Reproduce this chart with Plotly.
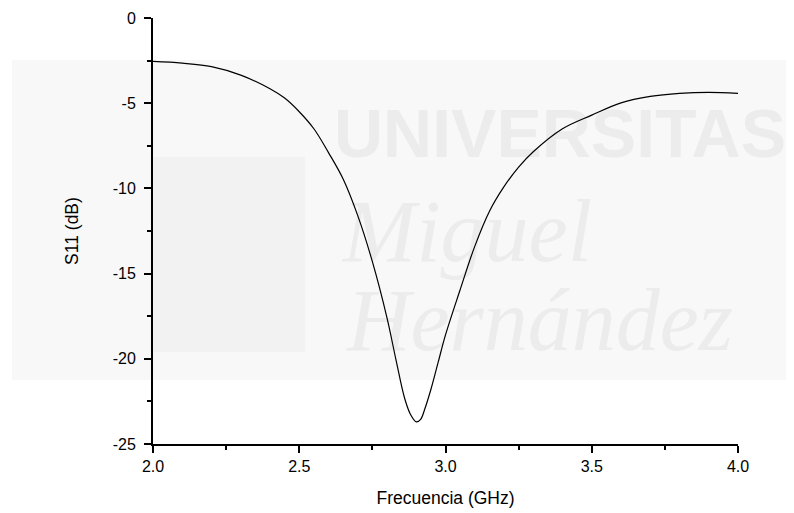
import plotly.graph_objects as go

freq_ghz = [2.0, 2.1, 2.2, 2.3, 2.4, 2.45, 2.5, 2.55, 2.6, 2.65, 2.7, 2.75, 2.8,
            2.83, 2.86, 2.88, 2.9, 2.915, 2.93, 2.95, 2.975, 3.0, 3.05, 3.1, 3.15,
            3.2, 3.25, 3.3, 3.4, 3.5, 3.6, 3.7, 3.8, 3.9, 4.0]
s11_db = [-2.55, -2.65, -2.85, -3.35, -4.15, -4.7, -5.5, -6.5, -7.9, -9.45,
          -11.6, -14.3, -17.6, -20.0, -22.3, -23.25, -23.7, -23.55, -22.9, -21.8,
          -20.2, -18.6, -15.95, -13.4, -11.35, -9.9, -8.75, -7.85, -6.5, -5.7,
          -4.98, -4.6, -4.42, -4.36, -4.42]

x_tickvals = [2.0, 2.5, 3.0, 3.5, 4.0]
x_ticktext = ["2.0", "2.5", "3.0", "3.5", "4.0"]
y_tickvals = [0, -5, -10, -15, -20, -25]
y_ticktext = ["0", "-5", "-10", "-15", "-20", "-25"]

font_family = "Liberation Sans, Arial, sans-serif"
OFF = 8  # default page body margin
W, H = 794 - OFF, 513 - OFF
L, R, T, B = 153 - OFF, 794 - 738, 18 - OFF, 513 - 444
PW, PH = W - L - R, H - T - B


def px(x):
    return (x - OFF - L) / PW


def py(y):
    return (H - B - (y - OFF)) / PH


fig = go.Figure()
fig.add_trace(go.Scatter(x=freq_ghz, y=s11_db, mode="lines",
                         line=dict(color="black", width=1.2, shape="spline", smoothing=1.0),
                         hoverinfo="skip", showlegend=False))

# faint watermark background (drawn below the data)
fig.add_shape(type="rect", xref="paper", yref="paper", x0=px(12), x1=px(794),
              y0=py(380), y1=py(60), fillcolor="#f8f8f8", line=dict(width=0), layer="below")
fig.add_shape(type="rect", xref="paper", yref="paper", x0=px(153), x1=px(305),
              y0=py(352), y1=py(157), fillcolor="#f2f2f2", line=dict(width=0), layer="below")
wm_color = "#ececec"


def wm_text(text, x0, x1, y0, y1, family, size, weight="normal", style="normal"):
    fig.add_shape(type="rect", xref="paper", yref="paper", x0=px(x0), x1=px(x1),
                  y0=py(y1), y1=py(y0), line=dict(width=0), fillcolor="rgba(0,0,0,0)",
                  layer="below",
                  label=dict(text=text, textposition="middle center",
                             font=dict(family=family, size=size, color=wm_color,
                                       weight=weight, style=style)))


wm_text("UNIVERSITAS", 335, 785, 97, 157, "Liberation Sans", 68, weight="bold")
wm_text("Miguel", 335, 600, 180, 262, "Liberation Serif", 88, style="italic")
wm_text("Hernández", 335, 745, 268, 352, "Liberation Serif", 88, style="italic")

fig.update_layout(
    width=W, height=H,
    margin=dict(l=L, r=R, t=T, b=B, autoexpand=False),
    paper_bgcolor="white", plot_bgcolor="rgba(0,0,0,0)",
    font=dict(family=font_family, size=16, color="black"),
    xaxis=dict(range=[2.0, 4.0], tickvals=x_tickvals, ticktext=x_ticktext,
               ticks="outside", ticklen=7, tickwidth=1.5, tickcolor="black",
               showline=True, linecolor="black", linewidth=2, showgrid=False,
               zeroline=False, tickfont=dict(size=16), automargin=False,
               minor=dict(ticks="outside", ticklen=4, tickwidth=1.5, tickcolor="black",
                          tickvals=[2.25, 2.75, 3.25, 3.75], showgrid=False),
               title=dict(text="Frecuencia (GHz)", font=dict(size=17.5), standoff=18)),
    yaxis=dict(range=[-25, 0], tickvals=y_tickvals, ticktext=y_ticktext,
               ticks="outside", ticklen=7, tickwidth=1.5, tickcolor="black",
               showline=True, linecolor="black", linewidth=2, showgrid=False,
               zeroline=False, tickfont=dict(size=16), automargin=False,
               ticklabelstandoff=5,
               minor=dict(ticks="outside", ticklen=4, tickwidth=1.5, tickcolor="black",
                          tickvals=[-2.5, -7.5, -12.5, -17.5, -22.5], showgrid=False),
               title=dict(text="S11 (dB)", font=dict(size=17.5), standoff=30)),
)

fig.write_html("out.html")
